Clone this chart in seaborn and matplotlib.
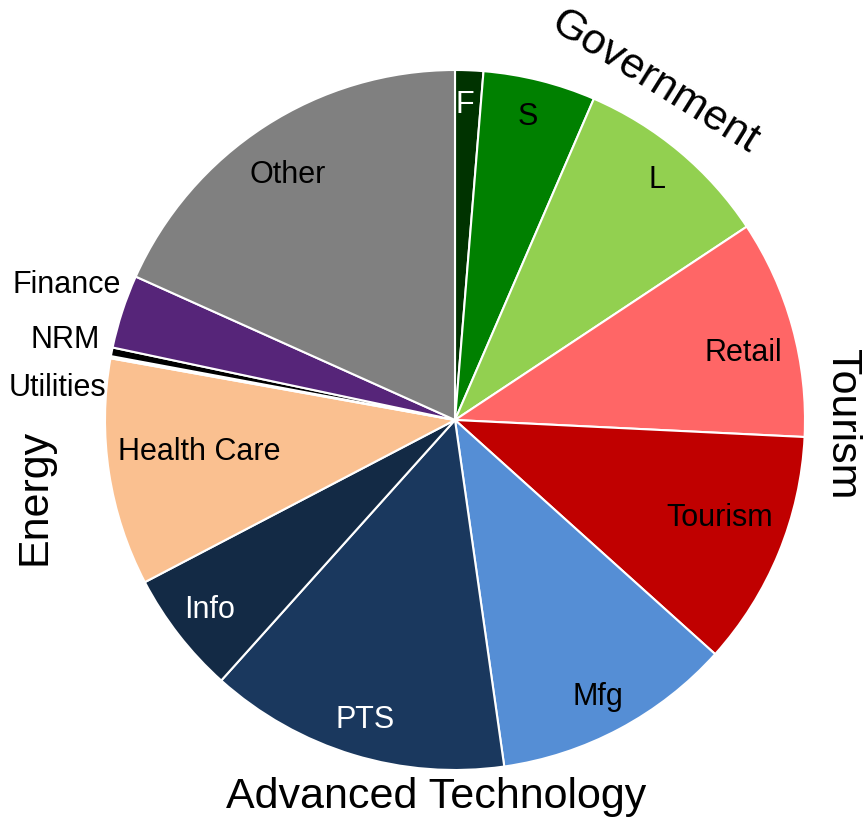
import matplotlib
matplotlib.use("Agg")
import matplotlib.pyplot as plt
import seaborn as sns

sns.set_theme(style="white")
plt.rcParams["font.family"] = ["Liberation Sans Narrow", "Liberation Sans", "DejaVu Sans"]

# share of each sector (percent), clockwise from 12 o'clock
sectors = ["F", "S", "L", "Retail", "Tourism", "Mfg", "PTS", "Info",
           "Health Care", "Utilities", "NRM", "Finance", "Other"]
shares = [1.3, 5.2, 9.2, 10.1, 10.9, 11.1, 13.9, 5.7, 10.5, 0.1, 0.4, 3.4, 18.3]
colors = ["#003300", "#008000", "#92d050", "#ff6666", "#c00000", "#558ed5",
          "#1a385e", "#132a45", "#fac090", "#ffff00", "#000000", "#562579", "#808080"]
groups = ["Government", "Tourism", "Energy", "Advanced Technology"]

W, H = 863, 821
fig = plt.figure(figsize=(W / 100, H / 100), dpi=100)
ax = fig.add_axes([0, 0, 1, 1])

ax.pie(shares, colors=colors, startangle=90, counterclock=False,
       center=(455, H - 420), radius=350,
       wedgeprops=dict(edgecolor="white", linewidth=1.5))
ax.set_xlim(0, W)
ax.set_ylim(0, H)
ax.set_aspect("equal")
ax.axis("off")

# label placement in pixel coordinates (y from top)
inside = {
    "F": (465, 105, "white"), "S": (528, 117, "black"), "L": (657, 180, "black"),
    "Retail": (743, 353, "black"), "Tourism": (720, 518, "black"),
    "Mfg": (598, 697, "black"), "PTS": (365, 720, "white"),
    "Info": (210, 610, "white"), "Health Care": (199, 452, "black"),
    "Other": (288, 175, "black"),
}
for name in sectors:
    if name in inside:
        x, y, c = inside[name]
        ax.text(x, H - y, name, color=c, fontsize=22, ha="center", va="center")

outside = {"Finance": (67, 285), "NRM": (65, 340), "Utilities": (57, 388)}
for name, (x, y) in outside.items():
    ax.text(x, H - y, name, color="black", fontsize=22, ha="center", va="center")

group_pos = {
    "Government": (655, 82, -32),
    "Tourism": (842, 424, -90),
    "Energy": (34, 497, 90),
    "Advanced Technology": (436, 797, 0),
}
for name in groups:
    x, y, rot = group_pos[name]
    ax.text(x, H - y, name, fontsize=31, color="black", ha="center", va="center",
            rotation=rot, family=["Liberation Sans", "DejaVu Sans"])

fig.savefig("out.png", dpi=100)
